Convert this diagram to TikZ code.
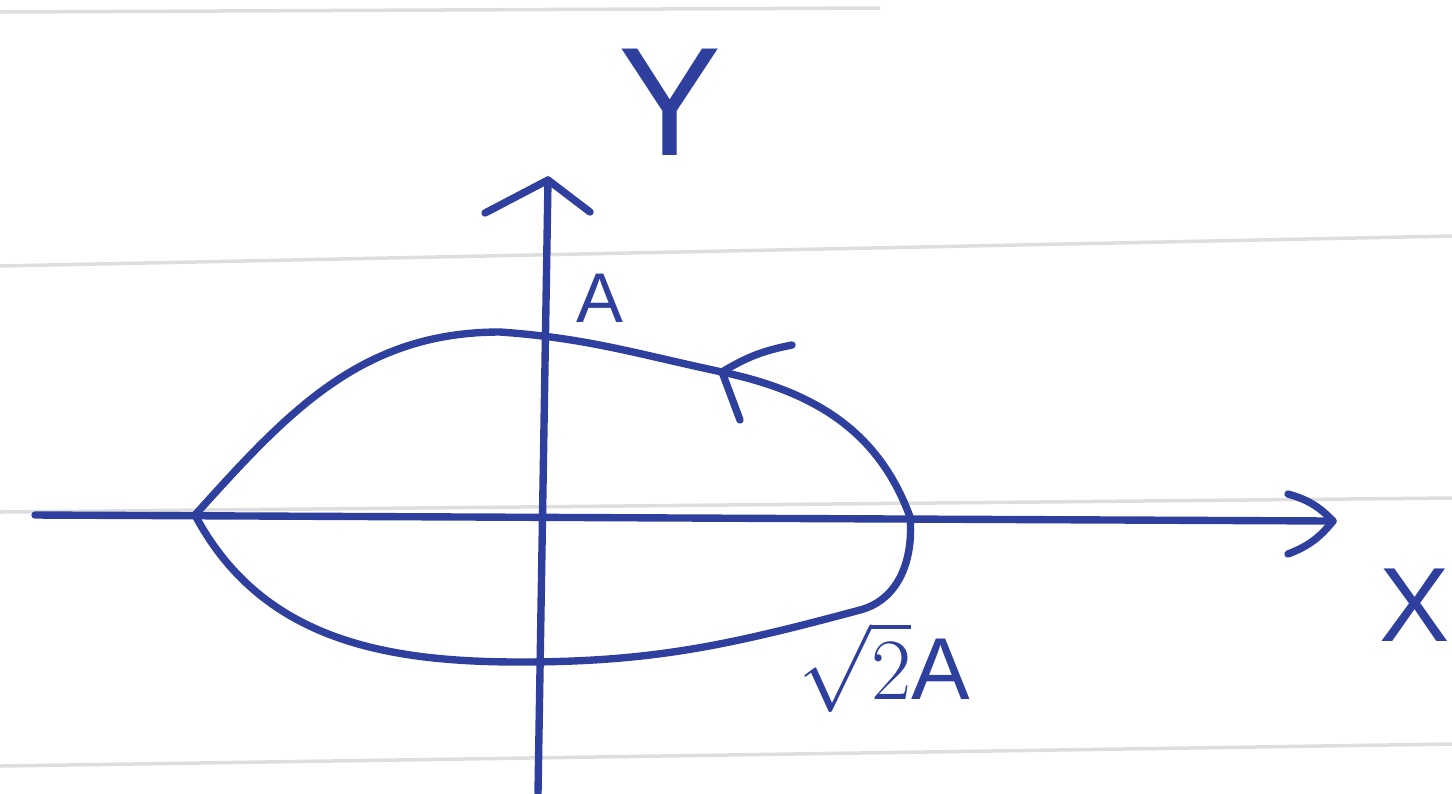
\documentclass[tikz,border=0pt]{standalone}
\usepackage{fontspec}
\setmainfont{Liberation Sans}
\usetikzlibrary{positioning,calc}
\definecolor{tinta}{HTML}{2E3F9E}
\definecolor{regla}{HTML}{DEDEDE}

\begin{document}
\begin{tikzpicture}[x=0.01cm,y=-0.01cm,
    trazo/.style={tinta,line width=2.1pt,line cap=round,line join=round},
    etiqueta/.style={tinta,inner sep=0pt},
    renglon/.style={regla,line width=1pt}]
  \useasboundingbox (0,0) rectangle (1452,793);
  % renglones del cuaderno
  \draw[renglon] (0,12) -- (880,8);
  \draw[renglon] (0,266) -- (1452,236);
  \draw[renglon] (0,512) -- (1452,498);
  \draw[renglon] (0,766) -- (1452,744);

  % ejes
  \coordinate (xizq) at (35,515);
  \coordinate (xder) at (1333,521);
  \coordinate (yabj) at (538,793);
  \coordinate (yarr) at (548,180);
  \draw[trazo] (xizq) -- (xder);
  \draw[trazo] (yabj) -- (yarr);
  \draw[trazo] ($(xder)+(-45,-27)$) to[bend left=15] (xder)
                to[bend left=15] ($(xder)+(-45,33)$);
  \draw[trazo] ($(yarr)+(-63,33)$) -- (yarr) -- ($(yarr)+(42,32)$);

  % etiquetas
  \node[etiqueta,font=\fontsize{44}{44}\selectfont] (ly) at (670,102) {Y};
  \node[etiqueta,font=\fontsize{30}{30}\selectfont] (lx) at (1415,605) {X};
  \node[etiqueta,font=\fontsize{20}{20}\selectfont] (la) at (600,298) {A};
  \node[etiqueta,font=\fontsize{25}{25}\selectfont] (lr) at (884,667) {$\sqrt{2}$A};

  % orbita cerrada
  \coordinate (pizq) at (195,515);
  \coordinate (pder) at (910,517);
  \coordinate (punta) at (722,372);
  \draw[trazo] (pizq) to[out=48,in=180] (500,332) to[out=-4,in=168] (punta)
      to[out=-12,in=110] (pder);
  \draw[trazo] (pizq) to[out=-62,in=180] (520,662) to[out=0,in=195] (860,610)
      to[out=15,in=-85] (pder);
  % punta de la orbita
  \draw[trazo] ($(punta)+(70,-27)$) to[bend right=10] (punta) -- ($(punta)+(18,48)$);
\end{tikzpicture}
\end{document}
